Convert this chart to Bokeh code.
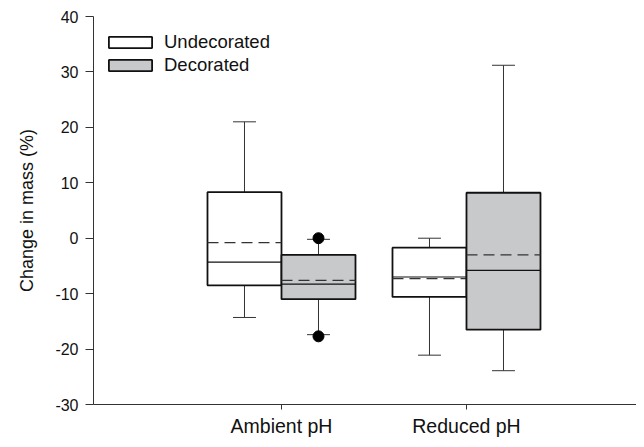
from bokeh.plotting import figure
from bokeh.models import FixedTicker, Range1d, Legend, LegendItem
from bokeh.embed import file_html
from bokeh.resources import INLINE

# ---- data ----
groups = ["Ambient pH", "Reduced pH"]
y_ticks = [-30, -20, -10, 0, 10, 20, 30, 40]
y_tick_labels = ["-30", "-20", "-10", "0", "10", "20", "30", "40"]

undec_q1 = [-8.5, -10.6]
undec_q3 = [8.3, -1.7]
undec_median = [-4.3, -7.0]
undec_mean = [-0.8, -7.3]
undec_whisk_lo = [-14.3, -21.1]
undec_whisk_hi = [21.0, 0.0]

dec_q1 = [-11.0, -16.5]
dec_q3 = [-3.0, 8.2]
dec_median = [-8.3, -5.8]
dec_mean = [-7.6, -3.0]
dec_whisk_lo = [-17.4, -23.9]
dec_whisk_hi = [-0.2, 31.2]

dec_outlier_group = ["Ambient pH", "Ambient pH"]
dec_outlier_values = [0.0, -17.7]

# ---- layout constants ----
FONT = "Liberation Sans"
BOX_W = 0.4
CAP_HALF = 0.062
centers = [i + 1 for i in range(len(groups))]

p = figure(width=636, height=439, output_backend="svg", toolbar_location=None,
           x_range=Range1d(-0.0162, 2.919), y_range=Range1d(-30, 40),
           min_border_left=93, min_border_right=0, min_border_top=16,
           min_border_bottom=34)
p.outline_line_color = None
p.xgrid.grid_line_color = None
p.ygrid.grid_line_color = None
p.background_fill_color = "white"
p.border_fill_color = "white"


def draw_series(offset, q1, q3, med, mean, wlo, whi, fill):
    xs = [c + offset for c in centers]
    p.segment(xs, q3, xs, whi, line_color="#333333", line_width=1)
    p.segment(xs, q1, xs, wlo, line_color="#333333", line_width=1)
    p.segment([x - CAP_HALF for x in xs], whi, [x + CAP_HALF for x in xs], whi,
              line_color="#333333", line_width=1)
    p.segment([x - CAP_HALF for x in xs], wlo, [x + CAP_HALF for x in xs], wlo,
              line_color="#333333", line_width=1)
    r = p.quad(left=[x - BOX_W / 2 for x in xs], right=[x + BOX_W / 2 for x in xs],
               bottom=q1, top=q3, fill_color=fill, line_color="#111111", line_width=1.8)
    p.segment([x - BOX_W / 2 for x in xs], med, [x + BOX_W / 2 for x in xs], med,
              line_color="#111111", line_width=1.2)
    p.segment([x - BOX_W / 2 for x in xs], mean, [x + BOX_W / 2 for x in xs], mean,
              line_color="#333333", line_width=1.2, line_dash="11 6")
    return r


r_undec = draw_series(-0.2, undec_q1, undec_q3, undec_median, undec_mean,
                      undec_whisk_lo, undec_whisk_hi, "white")
r_dec = draw_series(0.2, dec_q1, dec_q3, dec_median, dec_mean,
                    dec_whisk_lo, dec_whisk_hi, "#c8c9cb")

out_x = [groups.index(g) + 1 + 0.2 for g in dec_outlier_group]
p.scatter(out_x, dec_outlier_values, size=11, fill_color="black", line_color="black")

# ---- axes ----
p.xaxis.ticker = FixedTicker(ticks=centers)
p.xaxis.major_label_overrides = {c: g for c, g in zip(centers, groups)}
p.xaxis.minor_tick_line_color = None
p.xaxis.major_tick_in = 0
p.xaxis.major_tick_out = 5
p.xaxis.major_label_standoff = 5
p.xaxis.major_label_text_font = FONT
p.xaxis.major_label_text_font_size = "19.5px"
p.xaxis.major_label_text_color = "#111111"
p.xaxis.axis_line_color = "#333333"
p.xaxis.major_tick_line_color = "#333333"

p.yaxis.ticker = FixedTicker(ticks=y_ticks)
p.yaxis.major_label_overrides = {t: s for t, s in zip(y_ticks, y_tick_labels)}
p.yaxis.minor_tick_line_color = None
p.yaxis.major_tick_in = 0
p.yaxis.major_tick_out = 8
p.yaxis.major_label_standoff = 7
p.yaxis.major_label_text_font = FONT
p.yaxis.major_label_text_font_size = "16px"
p.yaxis.major_label_text_color = "#111111"
p.yaxis.axis_line_color = "#333333"
p.yaxis.major_tick_line_color = "#333333"
p.yaxis.axis_label = "Change in mass (%)"
p.yaxis.axis_label_text_font = FONT
p.yaxis.axis_label_text_font_size = "18px"
p.yaxis.axis_label_text_font_style = "normal"
p.yaxis.axis_label_text_color = "#111111"
p.yaxis.axis_label_standoff = 15

legend = Legend(items=[LegendItem(label="Undecorated", renderers=[r_undec]),
                       LegendItem(label="Decorated", renderers=[r_dec])],
                location=(10, 328), margin=0, padding=0, spacing=1,
                glyph_width=54, glyph_height=14, label_height=21,
                label_standoff=7, label_text_font=FONT,
                label_text_font_size="18.5px", label_text_color="#111111",
                border_line_color=None, background_fill_alpha=0)
p.add_layout(legend)

open("out.html", "w").write(file_html(p, INLINE))
